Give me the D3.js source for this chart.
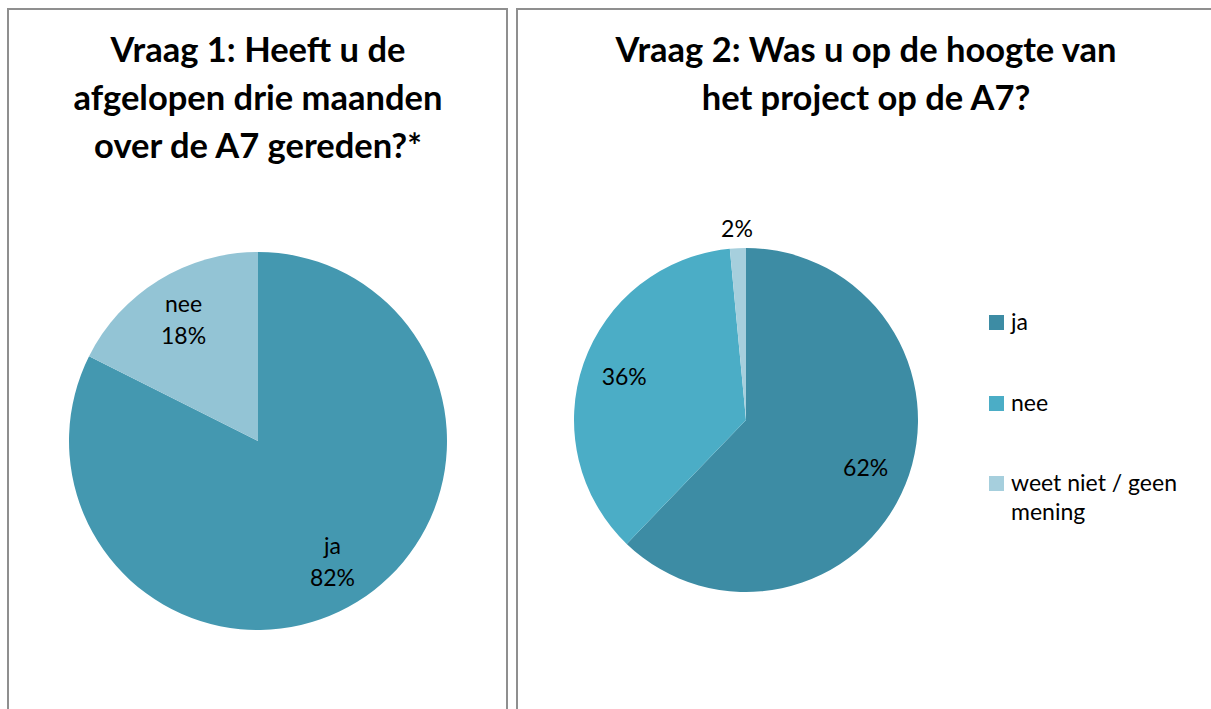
<!DOCTYPE html>
<html>
<head>
<meta charset="utf-8">
<script src="https://cdn.jsdelivr.net/npm/d3@7"></script>
<style>
  html, body { margin: 0; padding: 0; background: #fff; }
  svg { display: block; font-family: Lato, 'Open Sans', sans-serif; }
</style>
</head>
<body>
<svg id="chart"></svg>
<script>
// Vraag 1
const q1Title = ['Vraag 1: Heeft u de', 'afgelopen drie maanden', 'over de A7 gereden?*'];
const q1Categories = ['ja', 'nee'];
const q1Values = [82.4, 17.6];
const q1Colors = ['#4498b0', '#93c4d5'];

// Vraag 2
const q2Title = ['Vraag 2: Was u op de hoogte van', 'het project op de A7?'];
const q2Categories = ['ja', 'nee', 'weet niet / geen mening'];
const q2Values = [62.2, 36.3, 1.5];
const q2Colors = ['#3d8ca4', '#4badc6', '#a6cfdd'];
const q2Legend = [['ja'], ['nee'], ['weet niet / geen', 'mening']];

const width = 1211, height = 709;
const svg = d3.select('#chart').attr('width', width).attr('height', height);

// panel frames
const panels = [{x: 8, w: 499}, {x: 517, w: 720}];
svg.selectAll('rect.panel')
    .data(panels)
    .join('rect')
    .attr('class', 'panel')
    .attr('x', d => d.x)
    .attr('y', 9)
    .attr('width', d => d.w)
    .attr('height', 740)
    .attr('fill', 'none')
    .attr('stroke', '#8f8f8f')
    .attr('stroke-width', 2);

const fmt = d3.format('.0f');

function drawTitle(lines, cx) {
    svg.append('text')
        .attr('text-anchor', 'middle')
        .attr('font-size', 34.5)
        .attr('font-weight', 'bold')
        .attr('fill', '#000')
        .selectAll('tspan')
        .data(lines)
        .join('tspan')
        .attr('x', cx)
        .attr('y', (d, i) => 62 + i * 48)
        .text(d => d);
}

function drawPie(cats, vals, colors, cx, cy, r, withName) {
    const data = cats.map((c, i) => ({name: c, value: vals[i], color: colors[i]}));
    const arcs = d3.pie().sort(null).value(d => d.value)(data);
    const arc = d3.arc().innerRadius(0).outerRadius(r);
    const g = svg.append('g').attr('transform', `translate(${cx},${cy})`);

    g.selectAll('path')
        .data(arcs)
        .join('path')
        .attr('d', arc)
        .attr('fill', d => d.data.color);

    const labelArc = d3.arc().innerRadius(r * 0.75).outerRadius(r * 0.75);
    const outerArc = d3.arc().innerRadius(r + 19).outerRadius(r + 19);

    const label = g.selectAll('text')
        .data(arcs)
        .join('text')
        .attr('text-anchor', 'middle')
        .attr('font-size', 23)
        .attr('fill', '#000')
        .attr('transform', d => {
            const small = d.endAngle - d.startAngle < 0.2;
            const [x, y] = (small ? outerArc : labelArc).centroid(d);
            return `translate(${x},${y})`;
        });

    label.each(function(d) {
        const lines = withName ? [d.data.name, fmt(d.data.value) + '%'] : [fmt(d.data.value) + '%'];
        const off = -(lines.length - 1) * 16 + 8;
        d3.select(this).selectAll('tspan')
            .data(lines)
            .join('tspan')
            .attr('x', 0)
            .attr('y', (t, i) => off + i * 32)
            .text(t => t);
    });
}

drawTitle(q1Title, 258);
drawPie(q1Categories, q1Values, q1Colors, 258, 441, 189, true);

drawTitle(q2Title, 866);
drawPie(q2Categories, q2Values, q2Colors, 746, 420, 172, false);

// legend
const legendY = [315, 396, 476];
const legend = svg.append('g').selectAll('g')
    .data(q2Legend)
    .join('g')
    .attr('transform', (d, i) => `translate(989,${legendY[i]})`);

legend.append('rect')
    .attr('width', 15)
    .attr('height', 15)
    .attr('fill', (d, i) => q2Colors[i]);

legend.append('text')
    .attr('font-size', 23)
    .attr('fill', '#000')
    .selectAll('tspan')
    .data(d => d)
    .join('tspan')
    .attr('x', 22)
    .attr('y', (t, i) => 15 + i * 29)
    .text(t => t);
</script>
</body>
</html>
